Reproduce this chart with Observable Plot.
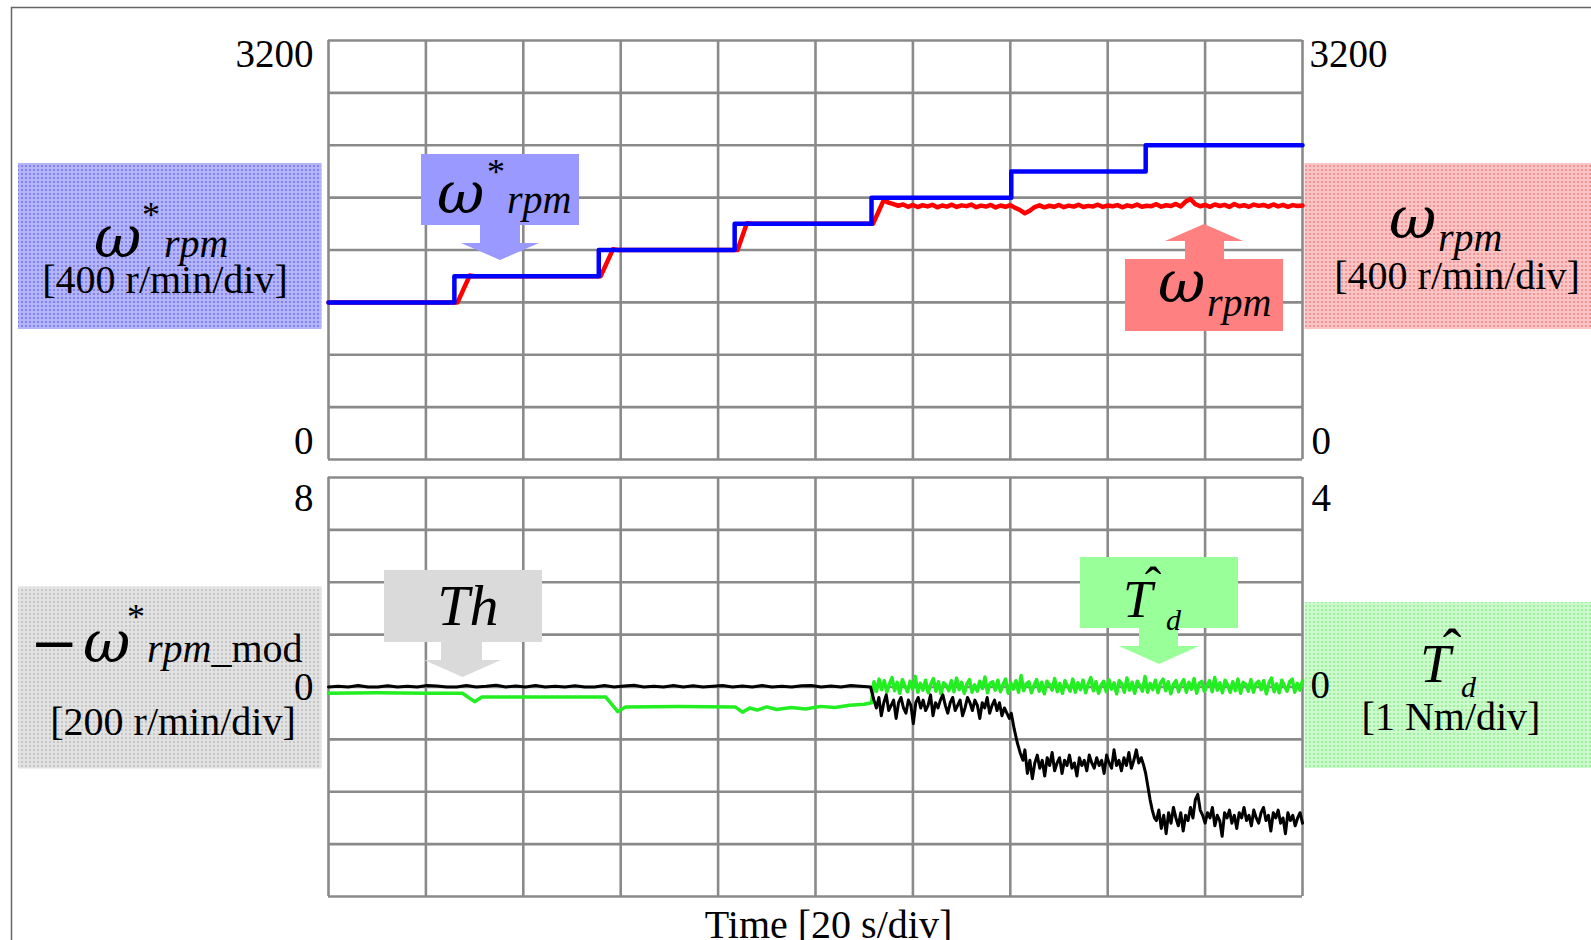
<!DOCTYPE html>
<html><head><meta charset="utf-8">
<script src="https://cdn.jsdelivr.net/npm/d3@7"></script>
<script src="https://cdn.jsdelivr.net/npm/@observablehq/plot@0.6"></script>
<style>
html,body{margin:0;padding:0;background:#fff;}
#wrap{position:relative;width:1591px;height:940px;overflow:hidden;background:#fff;}
#under,#over{position:absolute;left:0;top:0;}
#under{z-index:0}
#top{position:absolute;left:0;top:0;z-index:1}
#bot{position:absolute;left:0;top:470px;z-index:1}
#over{z-index:2;pointer-events:none}
svg text{font-family:"Liberation Serif",serif;fill:#000;}
svg text.w{font-family:"DejaVu Serif",serif;font-style:italic;}
svg text.m{font-family:"DejaVu Serif",serif;}
</style></head><body>
<div id="wrap">
<svg id="under" width="1591" height="940">
  <defs>
    <pattern id="pb" width="4" height="4" patternUnits="userSpaceOnUse"><rect width="4" height="4" fill="#b4b4f8"/><rect x="1" y="1" width="2" height="2" fill="#8282f0"/></pattern>
    <pattern id="pr" width="4" height="4" patternUnits="userSpaceOnUse"><rect width="4" height="4" fill="#fbc4c4"/><rect x="1" y="1" width="2" height="2" fill="#f59494"/></pattern>
    <pattern id="pgr" width="4" height="4" patternUnits="userSpaceOnUse"><rect width="4" height="4" fill="#e2e2e2"/><rect x="1" y="1" width="2" height="2" fill="#c6c6c6"/></pattern>
    <pattern id="pg" width="4" height="4" patternUnits="userSpaceOnUse"><rect width="4" height="4" fill="#cdfacd"/><rect x="1" y="1" width="2" height="2" fill="#9cf29c"/></pattern>
  </defs>
  <path d="M11.5,940 V7.5 H1591" stroke="#666" stroke-width="1.5" fill="none"/>
  <rect x="18" y="163" width="303.5" height="166" fill="url(#pb)"/>
  <rect x="1304.5" y="163" width="286.5" height="166" fill="url(#pr)"/>
  <rect x="18" y="586.5" width="303.5" height="182" fill="url(#pgr)"/>
  <rect x="1304.5" y="602" width="286.5" height="166" fill="url(#pg)"/>
  <!-- blue side label -->
  <text class="w" x="94" y="257" font-size="58">ω</text>
  <text x="151" y="227" font-size="36" text-anchor="middle">*</text>
  <text x="164" y="257" font-size="40" font-style="italic">rpm</text>
  <text x="165" y="293" font-size="40" text-anchor="middle">[400 r/min/div]</text>
  <!-- red side label -->
  <text class="w" x="1389" y="238" font-size="58">ω</text>
  <text x="1438" y="251" font-size="40" font-style="italic">rpm</text>
  <text x="1457" y="289" font-size="40" text-anchor="middle">[400 r/min/div]</text>
  <!-- gray side label -->
  <text class="m" x="30" y="663" font-size="58">−</text>
  <text class="w" x="83" y="662" font-size="58">ω</text>
  <text x="136" y="629" font-size="36" text-anchor="middle">*</text>
  <text x="147" y="662" font-size="40"><tspan font-style="italic">rpm</tspan>_mod</text>
  <text x="173" y="735" font-size="40" text-anchor="middle">[200 r/min/div]</text>
  <!-- green side label -->
  <text x="1420" y="682" font-size="55" font-style="italic">T</text>
  <text x="1452" y="668" font-size="56" text-anchor="middle">ˆ</text>
  <text x="1461" y="697" font-size="30" font-style="italic">d</text>
  <text x="1451" y="730" font-size="40" text-anchor="middle">[1 Nm/div]</text>
</svg>
<div id="top"></div>
<div id="bot"></div>
<svg id="over" width="1591" height="940">
  <!-- blue callout -->
  <rect x="421" y="154" width="158" height="71" fill="#9999ff"/>
  <polygon points="480,224 520,224 520,243 539,243 500,260 461,243 480,243" fill="#9999ff"/>
  <text class="w" x="437" y="213" font-size="58">ω</text>
  <text x="496" y="184" font-size="36" text-anchor="middle">*</text>
  <text x="507" y="213" font-size="40" font-style="italic">rpm</text>
  <!-- red callout -->
  <rect x="1125" y="259" width="158" height="72" fill="#ff8080"/>
  <polygon points="1185,260 1224,260 1224,241 1243,241 1204,224 1165,241 1185,241" fill="#ff8080"/>
  <text class="w" x="1158" y="302" font-size="58">ω</text>
  <text x="1207" y="316" font-size="40" font-style="italic">rpm</text>
  <!-- gray callout -->
  <rect x="384" y="570" width="158" height="72" fill="#dadada"/>
  <polygon points="441,641 482,641 482,660 501,660 462.5,677 424,660 441,660" fill="#dadada"/>
  <text x="468" y="625" font-size="58" font-style="italic" text-anchor="middle">Th</text>
  <!-- green callout -->
  <rect x="1080" y="557" width="158" height="71" fill="#99ff99"/>
  <polygon points="1139,627 1178,627 1178,646 1199,646 1159,664 1119,646 1139,646" fill="#99ff99"/>
  <text x="1123" y="617" font-size="53" font-style="italic">T</text>
  <text x="1153" y="602" font-size="50" text-anchor="middle">ˆ</text>
  <text x="1166" y="630" font-size="30" font-style="italic">d</text>
</svg>
</div>
<script>
// ---------- axes / grid ----------
const timeTicks = [0, 20, 40, 60, 80, 100, 120, 140, 160, 180, 200];
const speedTicks = [0, 400, 800, 1200, 1600, 2000, 2400, 2800, 3200];
const torqueTicks = [-4, -3, -2, -1, 0, 1, 2, 3, 4];
const speedAxisLabels = [3200, 0];
const modAxisLabels = [8, 0];      // left axis of lower panel (200 r/min/div)
const torqueAxisLabels = [4, 0];   // right axis of lower panel (1 Nm/div)
const timeLabel = "Time [20 s/div]";

// ---------- speed command ω*rpm (step changes) ----------
const refStepTimes = [0, 25.85, 55.5, 83.4, 111.5, 140.2, 167.8, 200];
const refStepSpeeds = [1200, 1400, 1600, 1800, 2000, 2200, 2400, 2400];

// ---------- measured speed ω rpm ----------
const measTimes = [0, 26.5, 29.0, 30.0, 55.9, 58.4, 59.5, 84.0, 85.9, 87.0, 111.8];
const measSpeeds = [1200, 1200, 1405, 1400, 1400, 1605, 1600, 1600, 1805, 1800, 1800];
const measNoisySpan = [114, 200];
const measNoisySpeeds = [
  1980,1962,1950,1938,1948,1930,1944,1928,1942,1933,
  1945,1926,1940,1931,1946,1929,1941,1935,1947,1927,
  1939,1932,1944,1925,1940,1930,1943,1922,1905,1880,
  1900,1928,1941,1926,1938,1930,1944,1927,1939,1931,
  1945,1928,1937,1933,1946,1929,1940,1934,1943,1926,
  1941,1932,1947,1930,1938,1935,1950,1931,1942,1936,
  1952,1933,1970,1990,1950,1934,1944,1930,1948,1936,
  1945,1929,1951,1934,1942,1930,1947,1937,1944,1931,
  1948,1933,1945,1930,1943,1936,1940
];

// ---------- estimated disturbance torque T̂d [Nm] ----------
const tdTimes = [0, 10, 20, 27.5, 30, 31.5, 45, 56.9, 59.4, 61, 72, 83.5, 85, 86.5, 88, 90, 92, 95, 98, 101, 104, 107, 110, 111.5];
const tdValues = [-0.12, -0.11, -0.12, -0.12, -0.28, -0.19, -0.19, -0.19, -0.47, -0.38, -0.37, -0.38, -0.48, -0.40, -0.44, -0.38, -0.43, -0.39, -0.42, -0.37, -0.39, -0.35, -0.33, -0.30];
const tdNoisySpan = [112, 200];
const tdNoisy = [
  0.1,-0.08,0.15,-0.05,0.12,-0.1,0.06,0.18,-0.07,0.09,
  -0.12,0.14,0.02,-0.09,0.11,-0.04,0.2,-0.1,0.07,-0.06,
  0.13,-0.11,0.05,0.16,-0.08,0.1,-0.13,0.08,0.03,-0.07,
  0.12,-0.09,0.17,-0.05,0.09,-0.12,0.06,0.14,-0.1,0.04,
  -0.08,0.11,-0.03,0.19,-0.11,0.07,0.1,-0.06,0.13,-0.09,
  0.05,0.15,-0.12,0.08,-0.04,0.12,-0.1,0.22,-0.07,0.06,
  0.1,-0.11,0.03,0.14,-0.08,0.09,-0.13,0.11,0.05,-0.06,
  0.16,-0.09,0.07,-0.12,0.12,0.02,-0.08,0.15,-0.1,0.08,
  -0.05,0.13,-0.11,0.06,0.18,-0.07,0.1,-0.12,0.04,0.11,
  -0.09,0.14,-0.04,0.08,-0.13,0.12,0.06,-0.1,0.17,-0.06,
  0.09,-0.12,0.11,0.03,-0.08,0.2,-0.1,0.07,-0.05,0.13,
  -0.11,0.08,0.15,-0.07,0.1,-0.13,0.05,0.12,-0.09,0.06,
  0.14,-0.1,0.09,-0.04,0.16,-0.12,0.07,0.11,-0.08,0.03,
  0.12,-0.09,0.18,-0.06,0.08,-0.11,0.13,0.04,-0.1,0.1,
  -0.07,0.15,-0.12,0.09,0.05,-0.08,0.14,-0.1,0.07,0.11,
  -0.05,0.12,-0.13,0.08,0.17,-0.09,0.06,-0.11,0.13,0.02,
  -0.08,0.1,0.15,-0.1,0.07,-0.06,0.12
];

// ---------- −ω*rpm_mod (left-axis units, 2 per div) ----------
const modQuietSpan = [0, 111.3];
const modQuiet = [0,0.03,0,0.06,0,0,0.05,0,0.03,0,0.06,0.04,0,0,0.06,0,0.03,0.07,0,0.04,0,0.06,0,0.03,0,0.05,0,0,0.06,0,0.04,0.07,0,0.03,0,0.06,0,0.05,0,0.03,0.06,0,0.04,0,0.06,0,0.03,0,0.05,0.06,0,0.04,0,0.06,0.03,0];
const modLevel1Span = [112, 139.8];
const modLevel1 = [
  -0.5,-0.8,-0.4,-1.1,-0.6,-0.3,-0.9,-0.7,-0.5,-1.2,
  -0.6,-0.4,-0.8,-1.0,-0.5,-0.7,-1.4,-0.6,-0.4,-0.8,
  -0.5,-0.9,-0.7,-0.3,-1.1,-0.6,-0.8,-0.5,-0.3,-0.7,
  -1.0,-0.6,-0.4,-0.9,-0.7,-0.5,-1.1,-0.8,-0.4,-0.6,
  -0.9,-0.5,-0.7,-1.2,-0.6,-0.8,-0.4,-1.0,-0.7,-0.5,
  -0.9,-0.6,-1.1,-0.8,-1.0,-1.2
];
const modDrop1Span = [140.2, 142.6];
const modDrop1 = [-1.0, -1.6, -2.1, -2.5, -2.8];
const modLevel2Span = [143, 167.4];
const modLevel2 = [
  -2.4,-3.3,-2.8,-3.5,-2.9,-2.6,-3.1,-2.8,-3.4,-2.7,
  -3.0,-2.5,-3.2,-2.9,-2.7,-3.3,-2.8,-3.0,-2.6,-3.1,
  -2.9,-3.4,-2.7,-3.0,-2.8,-3.2,-2.6,-2.9,-3.1,-2.7,
  -3.0,-2.8,-3.3,-2.6,-2.9,-3.1,-2.4,-3.0,-2.8,-3.2,
  -2.7,-3.0,-2.5,-3.1,-2.8,-2.4,-2.9,-2.7,-3.0
];
const modDrop2Span = [167.8, 169.6];
const modDrop2 = [-3.3, -3.8, -4.3, -4.7, -5.0];
const modLevel3Span = [170, 200];
const modLevel3 = [
  -5.1,-4.7,-5.4,-4.9,-5.6,-4.8,-5.2,-4.6,-5.0,-5.3,
  -4.8,-5.5,-4.9,-5.1,-4.6,-5.0,-4.3,-4.1,-4.7,-4.9,
  -5.2,-4.8,-5.0,-4.6,-5.3,-4.9,-5.1,-5.7,-4.8,-5.0,
  -4.7,-5.2,-4.9,-5.4,-4.8,-5.0,-4.6,-5.1,-4.9,-5.3,
  -4.7,-5.0,-5.2,-4.8,-4.6,-5.1,-4.9,-5.5,-4.8,-5.0,
  -4.7,-5.2,-5.0,-5.6,-4.8,-5.1,-4.9,-5.3,-5.0,-4.8,-5.2
];

// ---------- build tables ----------
const pairs = (ts, vs) => ts.map((t, i) => ({t, v: vs[i]}));
const sampled = ([t0, t1], vs) => vs.map((v, i) => ({t: t0 + i * (t1 - t0) / (vs.length - 1), v}));

const reference = pairs(refStepTimes, refStepSpeeds);
const measured = [...pairs(measTimes, measSpeeds), ...sampled(measNoisySpan, measNoisySpeeds)];
const torque = [...pairs(tdTimes, tdValues), ...sampled(tdNoisySpan, tdNoisy)];
const modSpeed = [
  ...sampled(modQuietSpan, modQuiet),
  ...sampled(modLevel1Span, modLevel1),
  ...sampled(modDrop1Span, modDrop1),
  ...sampled(modLevel2Span, modLevel2),
  ...sampled(modDrop2Span, modDrop2),
  ...sampled(modLevel3Span, modLevel3)
];

const font = "Liberation Serif";
const fs = 39;
const grid = {stroke: "#8a8a8a", strokeOpacity: 1, strokeWidth: 2.6};
const lab = {fontFamily: font, fontSize: fs, fill: "#000", lineAnchor: "bottom", text: d => String(d)};

const topPlot = Plot.plot({
  width: 1591, height: 470,
  marginLeft: 328, marginRight: 289, marginTop: 40, marginBottom: 11,
  style: {background: "transparent", overflow: "visible"},
  x: {domain: [0, 200], axis: null},
  y: {domain: [0, 3200], axis: null},
  marks: [
    Plot.gridX(timeTicks, grid),
    Plot.gridY(speedTicks, grid),
    Plot.line(measured, {x: "t", y: "v", stroke: "#ff0000", strokeWidth: 4.5}),
    Plot.line(reference, {x: "t", y: "v", curve: "step-after", stroke: "#0000ff", strokeWidth: 4.5}),
    Plot.text([speedAxisLabels[0]], {...lab, y: d => d, frameAnchor: "left", textAnchor: "end", dx: -15, dy: 26}),
    Plot.text([speedAxisLabels[1]], {...lab, y: d => d, frameAnchor: "left", textAnchor: "end", dx: -15, dy: -6}),
    Plot.text([speedAxisLabels[0]], {...lab, y: d => d, frameAnchor: "right", textAnchor: "start", dx: 7, dy: 26}),
    Plot.text([speedAxisLabels[1]], {...lab, y: d => d, frameAnchor: "right", textAnchor: "start", dx: 9, dy: -6})
  ]
});
document.getElementById("top").append(topPlot);

const botPlot = Plot.plot({
  width: 1591, height: 470,
  marginLeft: 328, marginRight: 289, marginTop: 7, marginBottom: 44,
  style: {background: "transparent", overflow: "visible"},
  x: {domain: [0, 200], axis: null},
  y: {domain: [-4, 4], axis: null},
  marks: [
    Plot.gridX(timeTicks, grid),
    Plot.gridY(torqueTicks, grid),
    Plot.line(torque, {x: "t", y: "v", stroke: "#22ee22", strokeWidth: 3.5}),
    Plot.line(modSpeed, {x: "t", y: d => d.v / 2, stroke: "#000", strokeWidth: 3}),
    Plot.text([modAxisLabels[0]], {...lab, y: d => d / 2, frameAnchor: "left", textAnchor: "end", dx: -15, dy: 33}),
    Plot.text([modAxisLabels[1]], {...lab, y: d => d / 2, frameAnchor: "left", textAnchor: "end", dx: -15, dy: 13}),
    Plot.text([torqueAxisLabels[0]], {...lab, y: d => d, frameAnchor: "right", textAnchor: "start", dx: 9, dy: 33}),
    Plot.text([torqueAxisLabels[1]], {...lab, y: d => d, frameAnchor: "right", textAnchor: "start", dx: 8, dy: 11}),
    Plot.text([timeLabel], {fontFamily: font, fontSize: 40, fill: "#000", text: d => d, frameAnchor: "bottom", lineAnchor: "bottom", dx: 13, dy: 41})
  ]
});
document.getElementById("bot").append(botPlot);
</script>
</body></html>
